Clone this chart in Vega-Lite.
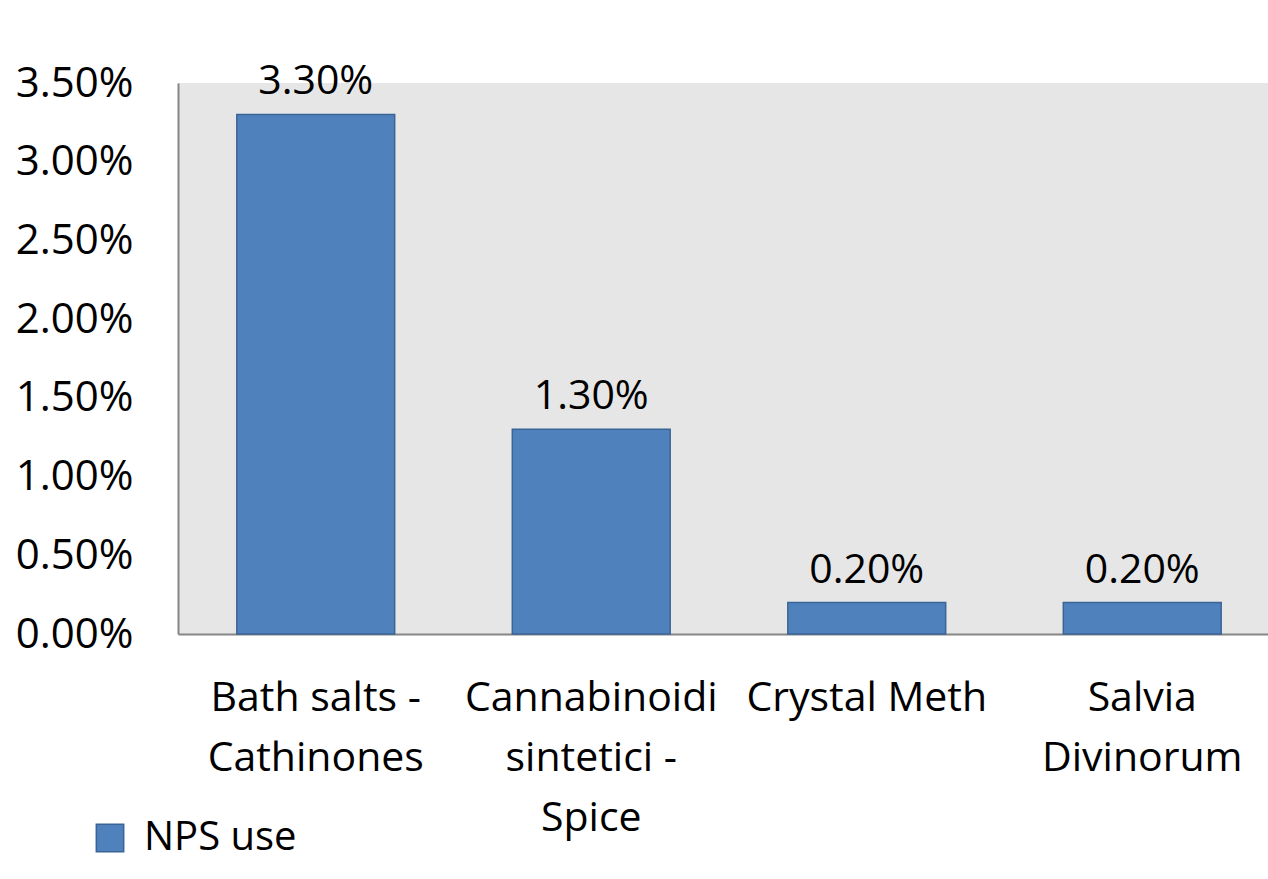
{
  "$schema": "https://vega.github.io/schema/vega-lite/v6.json",
  "width": 1102,
  "height": 551,
  "autosize": {"type": "none"},
  "padding": {"left": 178, "top": 83, "right": 0, "bottom": 245},
  "background": "white",
  "config": {
    "font": "Open Sans",
    "view": {"fill": "#e6e6e6", "stroke": null}
  },
  "data": {
    "values": [
      {"category": "Bath salts - Cathinones", "value": 0.033, "series": "NPS use"},
      {"category": "Cannabinoidi sintetici - Spice", "value": 0.013, "series": "NPS use"},
      {"category": "Crystal Meth", "value": 0.002, "series": "NPS use"},
      {"category": "Salvia Divinorum", "value": 0.002, "series": "NPS use"}
    ]
  },
  "encoding": {
    "x": {
      "field": "category",
      "type": "nominal",
      "sort": null,
      "scale": {"paddingInner": 0.427, "paddingOuter": 0.2135},
      "axis": {
        "title": null,
        "labelAngle": 0,
        "labelFontSize": 41,
        "labelColor": "black",
        "labelPadding": 44,
        "labelLineHeight": 60,
        "labelBaseline": "top",
        "labelLimit": 0,
        "ticks": false,
        "domainColor": "#868686",
        "domainWidth": 2,
        "labelExpr": "datum.value == 'Bath salts - Cathinones' ? ['Bath salts -', 'Cathinones'] : datum.value == 'Cannabinoidi sintetici - Spice' ? ['Cannabinoidi', 'sintetici -', 'Spice'] : datum.value == 'Salvia Divinorum' ? ['Salvia', 'Divinorum'] : datum.value"
      }
    },
    "y": {
      "field": "value",
      "type": "quantitative",
      "scale": {"domain": [0, 0.035], "nice": false},
      "axis": {
        "title": null,
        "format": ".2%",
        "values": [0, 0.005, 0.01, 0.015, 0.02, 0.025, 0.03, 0.035],
        "grid": false,
        "ticks": false,
        "labelFontSize": 42,
        "labelColor": "black",
        "labelPadding": 45,
        "labelLimit": 0,
        "domainColor": "#868686",
        "domainWidth": 2
      }
    }
  },
  "layer": [
    {
      "mark": {"type": "bar", "stroke": "#3b6496", "strokeWidth": 1.5},
      "encoding": {
        "color": {
          "field": "series",
          "type": "nominal",
          "scale": {"range": ["#4f81bd"]},
          "legend": {
            "title": null,
            "orient": "none",
            "legendX": -88,
            "legendY": 735,
            "labelFontSize": 40,
            "labelColor": "black",
            "symbolType": "square",
            "symbolSize": 750,
            "symbolStrokeColor": "#3b6496",
            "symbolStrokeWidth": 1.5,
            "labelOffset": 14
          }
        }
      }
    },
    {
      "mark": {"type": "text", "dy": -32, "fontSize": 41, "color": "black", "font": "Open Sans"},
      "encoding": {
        "text": {"field": "value", "type": "quantitative", "format": ".2%"}
      }
    }
  ]
}
